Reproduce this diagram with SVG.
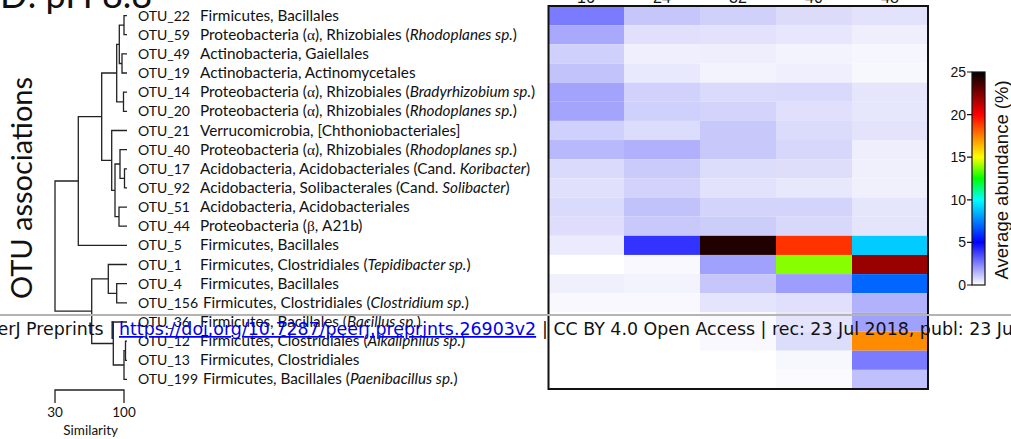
<svg xmlns="http://www.w3.org/2000/svg" width="1011" height="439" viewBox="0 0 1011 439">
<style>
.lbl{font-family:Lato,"Liberation Sans",sans-serif;font-size:15.3px;fill:#111}
.on{font-size:14px}
.it{font-style:italic}
.gr{font-family:"Liberation Serif",serif}
.dn{fill:none;stroke:#222;stroke-width:1.3}
.ax{font-family:"Liberation Sans",Arial,sans-serif;font-size:14px;fill:#111}
.ft{font-family:"DejaVu Sans",sans-serif;font-size:17.4px;fill:#111}
</style>
<defs>
<linearGradient id="cb" x1="0" y1="1" x2="0" y2="0">
<stop offset="0" stop-color="#ffffff"/>
<stop offset="0.1" stop-color="#8080ff"/>
<stop offset="0.2" stop-color="#0000ff"/>
<stop offset="0.3" stop-color="#0080ff"/>
<stop offset="0.4" stop-color="#00ffff"/>
<stop offset="0.5" stop-color="#00ff00"/>
<stop offset="0.6" stop-color="#ffff00"/>
<stop offset="0.7" stop-color="#ff8000"/>
<stop offset="0.8" stop-color="#ff0000"/>
<stop offset="0.9" stop-color="#800000"/>
<stop offset="1" stop-color="#000000"/>
</linearGradient>
</defs>
<rect width="1011" height="439" fill="#fff"/>

<g id="title"><text x="0" y="8" style="font-family:Lato,'Liberation Sans',sans-serif;font-size:36px;fill:#111">D: pH 8.8</text></g>
<g id="ylabel"><text transform="translate(32,188) rotate(-90)" text-anchor="middle" style="font-family:Lato,'Liberation Sans',sans-serif;font-size:29px;fill:#111">OTU associations</text></g>

<g id="heatmap">
<g id="r0"><rect x="548" y="6" width="76" height="19.15" fill="#7b7bff"/><rect x="624" y="6" width="76" height="19.15" fill="#c6c6fb"/><rect x="700" y="6" width="76" height="19.15" fill="#d0d0fa"/><rect x="776" y="6" width="76" height="19.15" fill="#dcdcfa"/><rect x="852" y="6" width="76" height="19.15" fill="#e2e2fc"/></g>
<g id="r1"><rect x="548" y="25.15" width="76" height="19.15" fill="#a8a8fd"/><rect x="624" y="25.15" width="76" height="19.15" fill="#e0e0fc"/><rect x="700" y="25.15" width="76" height="19.15" fill="#e2e2fc"/><rect x="776" y="25.15" width="76" height="19.15" fill="#e6e6fc"/><rect x="852" y="25.15" width="76" height="19.15" fill="#eeeefd"/></g>
<g id="r2"><rect x="548" y="44.3" width="76" height="19.15" fill="#d0d0fc"/><rect x="624" y="44.3" width="76" height="19.15" fill="#efeffd"/><rect x="700" y="44.3" width="76" height="19.15" fill="#eeeefd"/><rect x="776" y="44.3" width="76" height="19.15" fill="#f3f3fe"/><rect x="852" y="44.3" width="76" height="19.15" fill="#f6f6fe"/></g>
<g id="r3"><rect x="548" y="63.45" width="76" height="19.15" fill="#c3c3fc"/><rect x="624" y="63.45" width="76" height="19.15" fill="#e9e9fd"/><rect x="700" y="63.45" width="76" height="19.15" fill="#f3f3fe"/><rect x="776" y="63.45" width="76" height="19.15" fill="#efeffd"/><rect x="852" y="63.45" width="76" height="19.15" fill="#f7f7fe"/></g>
<g id="r4"><rect x="548" y="82.6" width="76" height="19.15" fill="#a3a3fd"/><rect x="624" y="82.6" width="76" height="19.15" fill="#d1d1fc"/><rect x="700" y="82.6" width="76" height="19.15" fill="#dadafc"/><rect x="776" y="82.6" width="76" height="19.15" fill="#d9d9fb"/><rect x="852" y="82.6" width="76" height="19.15" fill="#e5e5fc"/></g>
<g id="r5"><rect x="548" y="101.75" width="76" height="19.15" fill="#a4a4fd"/><rect x="624" y="101.75" width="76" height="19.15" fill="#d0d0fc"/><rect x="700" y="101.75" width="76" height="19.15" fill="#d3d3fb"/><rect x="776" y="101.75" width="76" height="19.15" fill="#e0e0fc"/><rect x="852" y="101.75" width="76" height="19.15" fill="#e6e6fc"/></g>
<g id="r6"><rect x="548" y="120.9" width="76" height="19.15" fill="#d0d0fc"/><rect x="624" y="120.9" width="76" height="19.15" fill="#dcdcfc"/><rect x="700" y="120.9" width="76" height="19.15" fill="#c8c8fa"/><rect x="776" y="120.9" width="76" height="19.15" fill="#dbdbfb"/><rect x="852" y="120.9" width="76" height="19.15" fill="#e3e3fc"/></g>
<g id="r7"><rect x="548" y="140.05" width="76" height="19.15" fill="#b8b8fc"/><rect x="624" y="140.05" width="76" height="19.15" fill="#b0b0fc"/><rect x="700" y="140.05" width="76" height="19.15" fill="#c8c8fa"/><rect x="776" y="140.05" width="76" height="19.15" fill="#d7d7fb"/><rect x="852" y="140.05" width="76" height="19.15" fill="#eeeefd"/></g>
<g id="r8"><rect x="548" y="159.2" width="76" height="19.15" fill="#dadafc"/><rect x="624" y="159.2" width="76" height="19.15" fill="#cacafb"/><rect x="700" y="159.2" width="76" height="19.15" fill="#dcdcfb"/><rect x="776" y="159.2" width="76" height="19.15" fill="#dedefb"/><rect x="852" y="159.2" width="76" height="19.15" fill="#f0f0fd"/></g>
<g id="r9"><rect x="548" y="178.35" width="76" height="19.15" fill="#e0e0fc"/><rect x="624" y="178.35" width="76" height="19.15" fill="#d2d2fc"/><rect x="700" y="178.35" width="76" height="19.15" fill="#e2e2fc"/><rect x="776" y="178.35" width="76" height="19.15" fill="#e8e8fd"/><rect x="852" y="178.35" width="76" height="19.15" fill="#f0f0fd"/></g>
<g id="r10"><rect x="548" y="197.5" width="76" height="19.15" fill="#dadafc"/><rect x="624" y="197.5" width="76" height="19.15" fill="#c2c2fb"/><rect x="700" y="197.5" width="76" height="19.15" fill="#d3d3fb"/><rect x="776" y="197.5" width="76" height="19.15" fill="#d3d3fb"/><rect x="852" y="197.5" width="76" height="19.15" fill="#e5e5fc"/></g>
<g id="r11"><rect x="548" y="216.65" width="76" height="19.15" fill="#dedefc"/><rect x="624" y="216.65" width="76" height="19.15" fill="#c8c8fb"/><rect x="700" y="216.65" width="76" height="19.15" fill="#cdcdfa"/><rect x="776" y="216.65" width="76" height="19.15" fill="#d8d8fb"/><rect x="852" y="216.65" width="76" height="19.15" fill="#e4e4fc"/></g>
<g id="r12"><rect x="548" y="235.8" width="76" height="19.15" fill="#ebebfd"/><rect x="624" y="235.8" width="76" height="19.15" fill="#3333ff"/><rect x="700" y="235.8" width="76" height="19.15" fill="#200000"/><rect x="776" y="235.8" width="76" height="19.15" fill="#ff3300"/><rect x="852" y="235.8" width="76" height="19.15" fill="#00ccff"/></g>
<g id="r13"><rect x="548" y="254.95" width="76" height="19.15" fill="#ffffff"/><rect x="624" y="254.95" width="76" height="19.15" fill="#f8f8fe"/><rect x="700" y="254.95" width="76" height="19.15" fill="#a0a0fd"/><rect x="776" y="254.95" width="76" height="19.15" fill="#88ff00"/><rect x="852" y="254.95" width="76" height="19.15" fill="#990000"/></g>
<g id="r14"><rect x="548" y="274.1" width="76" height="19.15" fill="#f0f0fd"/><rect x="624" y="274.1" width="76" height="19.15" fill="#f3f3fe"/><rect x="700" y="274.1" width="76" height="19.15" fill="#c6c6fb"/><rect x="776" y="274.1" width="76" height="19.15" fill="#9d9dfd"/><rect x="852" y="274.1" width="76" height="19.15" fill="#0066ff"/></g>
<g id="r15"><rect x="548" y="293.25" width="76" height="19.15" fill="#f8f8fe"/><rect x="624" y="293.25" width="76" height="19.15" fill="#f8f8fe"/><rect x="700" y="293.25" width="76" height="19.15" fill="#e4e4fc"/><rect x="776" y="293.25" width="76" height="19.15" fill="#e0e0fc"/><rect x="852" y="293.25" width="76" height="19.15" fill="#b2b2fc"/></g>
<g id="r16"><rect x="548" y="312.4" width="76" height="19.15" fill="#ffffff"/><rect x="624" y="312.4" width="76" height="19.15" fill="#ffffff"/><rect x="700" y="312.4" width="76" height="19.15" fill="#fafafe"/><rect x="776" y="312.4" width="76" height="19.15" fill="#e4e4fc"/><rect x="852" y="312.4" width="76" height="19.15" fill="#a0a0fd"/></g>
<g id="r17"><rect x="548" y="331.55" width="76" height="19.15" fill="#ffffff"/><rect x="624" y="331.55" width="76" height="19.15" fill="#ffffff"/><rect x="700" y="331.55" width="76" height="19.15" fill="#f8f8fe"/><rect x="776" y="331.55" width="76" height="19.15" fill="#dcdcfb"/><rect x="852" y="331.55" width="76" height="19.15" fill="#ff8c00"/></g>
<g id="r18"><rect x="548" y="350.7" width="76" height="19.15" fill="#ffffff"/><rect x="624" y="350.7" width="76" height="19.15" fill="#ffffff"/><rect x="700" y="350.7" width="76" height="19.15" fill="#ffffff"/><rect x="776" y="350.7" width="76" height="19.15" fill="#f7f7fe"/><rect x="852" y="350.7" width="76" height="19.15" fill="#7b7bff"/></g>
<g id="r19"><rect x="548" y="369.85" width="76" height="19.15" fill="#ffffff"/><rect x="624" y="369.85" width="76" height="19.15" fill="#ffffff"/><rect x="700" y="369.85" width="76" height="19.15" fill="#ffffff"/><rect x="776" y="369.85" width="76" height="19.15" fill="#fbfbfe"/><rect x="852" y="369.85" width="76" height="19.15" fill="#c0c0fc"/></g>
<rect x="548.5" y="6" width="379.5" height="383" fill="none" stroke="#111" stroke-width="2"/>
<g class="ax" text-anchor="middle" style="font-size:16px"><text x="586" y="3">16</text><text x="662" y="3">24</text><text x="738" y="3">32</text><text x="814" y="3">40</text><text x="890" y="3">48</text></g>
</g>

<g id="colorbar">
<rect x="972" y="72" width="13" height="213" fill="url(#cb)" stroke="#111" stroke-width="1.2"/>
<path d="M967,72H972M967,114.6H972M967,157.2H972M967,199.8H972M967,242.4H972M967,285H972" stroke="#111" stroke-width="1.2"/>
<g class="ax" text-anchor="end"><text x="966" y="77">25</text><text x="966" y="119.6">20</text><text x="966" y="162.2">15</text><text x="966" y="204.8">10</text><text x="966" y="247.4">5</text><text x="966" y="290">0</text></g>
<text transform="translate(1008,180) rotate(-90)" text-anchor="middle" style="font-family:'Liberation Sans',Arial,sans-serif;font-size:18.5px;fill:#111">Average abundance (%)</text>
</g>

<g id="connectors" class="dn">
<path d="M127,15.6H124V34.7H127"/>
<path d="M127,53.9H122V73H127"/>
<path d="M124,25.2H119.3V63.5H122"/>
<path d="M127,92.2H123.5V111.3H127"/>
<path d="M119.3,44.3H116.7V101.8H123.5"/>
<path d="M127,168.8H124.5V187.9H127"/>
<path d="M127,149.6H120V178.4H124.5"/>
<path d="M127,207.1H119V226.2H127"/>
<path d="M120,164H115V216.6H119"/>
<path d="M127,130.5H111.7V190.3H115"/>
<path d="M116.7,73H101.7V160.4H111.7"/>
<path d="M101.7,116.7H78.3V245.4H127"/>
<path d="M127,283.7H116.7V302.8H127"/>
<path d="M127,264.5H108.3V293.3H116.7"/>
<path d="M127,341.1H125.5V360.3H127"/>
<path d="M125.5,350.7H124V379.4H127"/>
<path d="M127,322H113.3V365H124"/>
<path d="M108.3,278.9H91.7V343.5H113.3"/>
<path d="M78.3,181H55V311.2H91.7"/>
</g>

<g id="scale">
<path d="M55,403V390H124V403" fill="none" stroke="#222" stroke-width="1.3"/>
<g style="font-family:Lato,'Liberation Sans',sans-serif;font-size:13.5px;fill:#111" text-anchor="middle"><text x="55" y="417">30</text><text x="124" y="417">100</text><text x="90.7" y="435">Similarity</text></g>
</g>

<g id="labels" class="lbl">
<g id="otu22"><text class="on" x="138" y="20.6">OTU_22</text><text x="200" y="20.6">Firmicutes, Bacillales</text></g>
<g id="otu59"><text class="on" x="138" y="39.7">OTU_59</text><text x="200" y="39.7">Proteobacteria (<tspan class="gr">α</tspan>), Rhizobiales (<tspan class="it">Rhodoplanes sp.</tspan>)</text></g>
<g id="otu49"><text class="on" x="138" y="58.9">OTU_49</text><text x="200" y="58.9">Actinobacteria, Gaiellales</text></g>
<g id="otu19"><text class="on" x="138" y="78">OTU_19</text><text x="200" y="78">Actinobacteria, Actinomycetales</text></g>
<g id="otu14"><text class="on" x="138" y="97.2">OTU_14</text><text x="200" y="97.2">Proteobacteria (<tspan class="gr">α</tspan>), Rhizobiales (<tspan class="it">Bradyrhizobium sp.</tspan>)</text></g>
<g id="otu20"><text class="on" x="138" y="116.3">OTU_20</text><text x="200" y="116.3">Proteobacteria (<tspan class="gr">α</tspan>), Rhizobiales (<tspan class="it">Rhodoplanes sp.</tspan>)</text></g>
<g id="otu21"><text class="on" x="138" y="135.5">OTU_21</text><text x="200" y="135.5">Verrucomicrobia, [Chthoniobacteriales]</text></g>
<g id="otu40"><text class="on" x="138" y="154.6">OTU_40</text><text x="200" y="154.6">Proteobacteria (<tspan class="gr">α</tspan>), Rhizobiales (<tspan class="it">Rhodoplanes sp.</tspan>)</text></g>
<g id="otu17"><text class="on" x="138" y="173.8">OTU_17</text><text x="200" y="173.8">Acidobacteria, Acidobacteriales (Cand. <tspan class="it">Koribacter</tspan>)</text></g>
<g id="otu92"><text class="on" x="138" y="192.9">OTU_92</text><text x="200" y="192.9">Acidobacteria, Solibacterales (Cand. <tspan class="it">Solibacter</tspan>)</text></g>
<g id="otu51"><text class="on" x="138" y="212.1">OTU_51</text><text x="200" y="212.1">Acidobacteria, Acidobacteriales</text></g>
<g id="otu44"><text class="on" x="138" y="231.2">OTU_44</text><text x="200" y="231.2">Proteobacteria (<tspan class="gr">β</tspan>, A21b)</text></g>
<g id="otu5"><text class="on" x="138" y="250.4">OTU_5</text><text x="200" y="250.4">Firmicutes, Bacillales</text></g>
<g id="otu1"><text class="on" x="138" y="269.5">OTU_1</text><text x="200" y="269.5">Firmicutes, Clostridiales (<tspan class="it">Tepidibacter sp.</tspan>)</text></g>
<g id="otu4"><text class="on" x="138" y="288.7">OTU_4</text><text x="200" y="288.7">Firmicutes, Bacillales</text></g>
<g id="otu156"><text class="on" x="138" y="307.8">OTU_156</text><text x="203" y="307.8">Firmicutes, Clostridiales (<tspan class="it">Clostridium sp.</tspan>)</text></g>
<g id="otu36"><text class="on" x="138" y="327">OTU_36</text><text x="200" y="327">Firmicutes, Bacillales (<tspan class="it">Bacillus sp.</tspan>)</text></g>
<g id="otu12"><text class="on" x="138" y="346.1">OTU_12</text><text x="200" y="346.1">Firmicutes, Clostridiales (<tspan class="it">Alkaliphilus sp.</tspan>)</text></g>
<g id="otu13"><text class="on" x="138" y="365.3">OTU_13</text><text x="200" y="365.3">Firmicutes, Clostridiales</text></g>
<g id="otu199"><text class="on" x="138" y="384.4">OTU_199</text><text x="203" y="384.4">Firmicutes, Bacillales (<tspan class="it">Paenibacillus sp.</tspan>)</text></g>
</g>

<g id="footer">
<rect x="0" y="314" width="1011" height="2" fill="#b4b4b4"/>
<text class="ft" x="115" y="335" text-anchor="end">PeerJ Preprints |</text>
<text class="ft" x="119" y="335" style="fill:#0000ee;text-decoration:underline">https://doi.org/10.7287/peerj.preprints.26903v2</text>
<text class="ft" x="542" y="335">| CC BY 4.0 Open Access | rec: 23 Jul 2018, publ: 23 Jul 2018</text>
</g>
</svg>
